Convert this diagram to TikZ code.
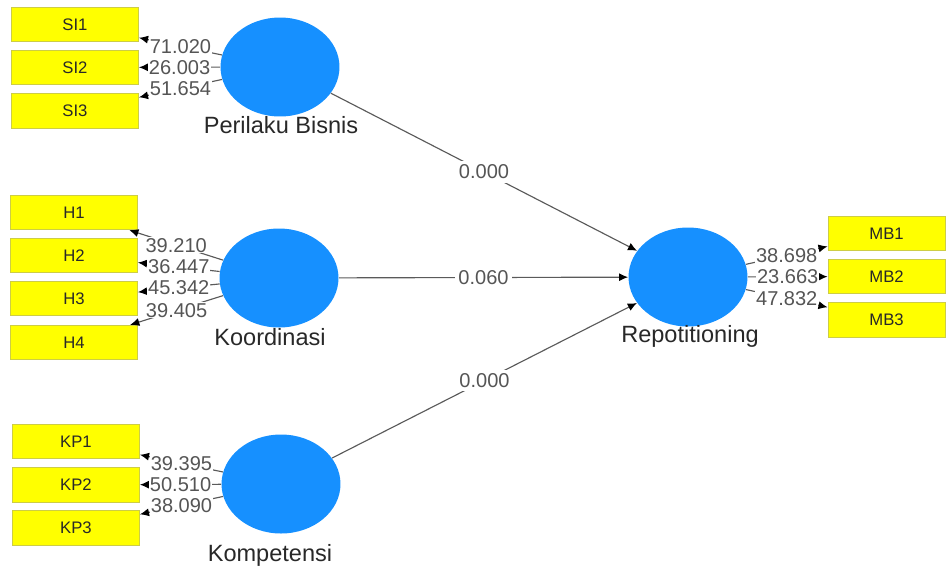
\documentclass[tikz,border=0pt]{standalone}
\usepackage{fontspec}
\setmainfont{Liberation Sans}
\usetikzlibrary{shapes.geometric,arrows.meta}
\definecolor{lvblue}{RGB}{22,144,255}
\definecolor{mvyellow}{RGB}{255,255,0}
\definecolor{mvedge}{RGB}{205,205,70}
\definecolor{linkgray}{RGB}{90,90,90}
\definecolor{numgray}{RGB}{85,85,85}
\definecolor{txtdark}{RGB}{40,40,40}

\begin{document}
\begin{tikzpicture}[x=0.02cm,y=-0.02cm,
  latent/.style={ellipse, fill=lvblue, draw=none, minimum width=2.38cm,
    minimum height=1.98cm, inner sep=0pt},
  indic/.style={rectangle, fill=mvyellow, draw=mvedge, line width=0.5pt,
    minimum width=2.54cm, minimum height=0.69cm, inner sep=0pt,
    font=\fontsize{9.5}{11}\selectfont, text=txtdark},
  indicr/.style={indic, minimum width=2.34cm},
  lvname/.style={anchor=base, inner sep=0pt, text=txtdark,
    font=\fontsize{13.4}{16}\selectfont},
  link/.style={draw=linkgray, line width=0.65pt,
    -{Latex[length=5.2pt,width=4.6pt,color=black]}},
  num/.style={fill=white, inner sep=0.6pt, pos=0.5, text=numgray,
    font=\fontsize{11.4}{13}\selectfont}
]
\useasboundingbox (0,0) rectangle (946,566);

% latent variables
\node[latent] (pb) at (280,67) {};
\node[latent] (ko) at (279,278) {};
\node[latent] (kp) at (281,484) {};
\node[latent] (rp) at (688,277) {};

\node[lvname] (pbname) at (281,133) {Perilaku Bisnis};
\node[lvname] (koname) at (270,345) {Koordinasi};
\node[lvname] (kpname) at (270,561) {Kompetensi};
\node[lvname] (rpname) at (690,342) {Repotitioning};

% indicators
\node[indic] (si1) at (75,24.5) {SI1};
\node[indic] (si2) at (75,67.5) {SI2};
\node[indic] (si3) at (75,111) {SI3};

\node[indic] (h1) at (74,212.5) {H1};
\node[indic] (h2) at (74,255.5) {H2};
\node[indic] (h3) at (74,298.5) {H3};
\node[indic] (h4) at (74,342.5) {H4};

\node[indic] (kp1) at (76,441.5) {KP1};
\node[indic] (kp2) at (76,485) {KP2};
\node[indic] (kp3) at (76,528) {KP3};

\node[indicr] (mb1) at (886.5,233.5) {MB1};
\node[indicr] (mb2) at (886.5,276.5) {MB2};
\node[indicr] (mb3) at (886.5,320) {MB3};

% outer loadings
\draw[link] (pb) -- node[num] {71.020} (si1);
\draw[link] (pb) -- node[num] {26.003} (si2);
\draw[link] (pb) -- node[num] {51.654} (si3);

\draw[link] (ko) -- node[num] {39.210} (h1);
\draw[link] (ko) -- node[num] {36.447} (h2);
\draw[link] (ko) -- node[num] {45.342} (h3);
\draw[link] (ko) -- node[num] {39.405} (h4);

\draw[link] (kp) -- node[num] {39.395} (kp1);
\draw[link] (kp) -- node[num] {50.510} (kp2);
\draw[link] (kp) -- node[num] {38.090} (kp3);

\draw[link] (rp) -- node[num] {38.698} (mb1);
\draw[link] (rp) -- node[num] {23.663} (mb2);
\draw[link] (rp) -- node[num] {47.832} (mb3);

% structural paths
\draw[link] (pb) -- node[num, inner sep=2pt] {0.000} (rp);
\draw[link] (ko) -- node[num, inner sep=2pt] {0.060} (rp);
\draw[link] (kp) -- node[num, inner sep=2pt] {0.000} (rp);
\end{tikzpicture}
\end{document}
